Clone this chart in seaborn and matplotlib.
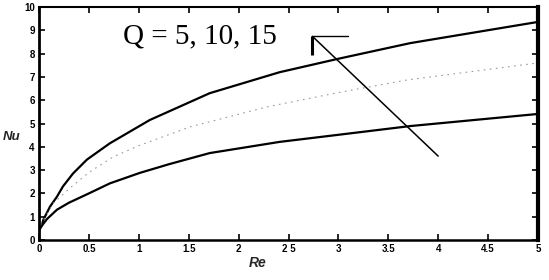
import matplotlib
matplotlib.use("Agg")
import matplotlib.pyplot as plt
import seaborn as sns
import pandas as pd

sns.set_theme(style="white")
plt.rcParams['font.family'] = ['Liberation Sans', 'DejaVu Sans']

# Data (Re vs Nu)
re_q15 = [0.0, 0.027, 0.043, 0.11, 0.18, 0.24, 0.34, 0.48, 0.71, 0.91, 1.11,
          1.71, 2.41, 2.99, 3.72, 5.0]
nu_q15 = [0.40, 0.62, 0.86, 1.43, 1.86, 2.30, 2.85, 3.45, 4.15, 4.65, 5.15,
          6.30, 7.20, 7.77, 8.45, 9.36]

re_q10 = [0.0, 0.05, 0.15, 0.31, 0.50, 0.74, 1.00, 1.51, 2.28, 2.99, 3.69, 5.0]
nu_q10 = [0.40, 0.90, 1.60, 2.23, 2.90, 3.56, 4.05, 4.85, 5.71, 6.32, 6.87, 7.60]

re_q5 = [0.0, 0.03, 0.08, 0.18, 0.30, 0.50, 0.71, 1.01, 1.30, 1.71, 2.41,
         2.99, 3.72, 5.0]
nu_q5 = [0.45, 0.62, 0.90, 1.30, 1.60, 2.00, 2.43, 2.88, 3.25, 3.73, 4.21,
         4.51, 4.89, 5.41]

x_ticks = [0, 0.5, 1, 1.5, 2, 2.5, 3, 3.5, 4, 4.5, 5]
x_ticklabels = ["0", "0.5", "1", "1.5", "2", "2 5", "3", "3.5", "4", "4.5", "5"]
y_ticks = list(range(0, 11))

label_text = "Q = 5, 10, 15"
arrow_re = [4.0, 2.74]
arrow_nu = [3.6, 8.74]

df15 = pd.DataFrame({"Re": re_q15, "Nu": nu_q15})
df10 = pd.DataFrame({"Re": re_q10, "Nu": nu_q10})
df5 = pd.DataFrame({"Re": re_q5, "Nu": nu_q5})

fig = plt.figure(figsize=(5.49, 2.80), dpi=100)
ax = fig.add_axes([39/549, 40/280, 499/549, 233/280])

sns.lineplot(data=df15, x="Re", y="Nu", ax=ax, color="black", linewidth=1.6)
sns.lineplot(data=df10, x="Re", y="Nu", ax=ax, color="#9a9a9a", linewidth=0.8,
             linestyle=(0, (1.5, 4)))
sns.lineplot(data=df5, x="Re", y="Nu", ax=ax, color="black", linewidth=1.6)

# Annotation arrow and bracket
ax.plot(arrow_re, arrow_nu, color="black", linewidth=1.1)
ax.plot([arrow_re[1], arrow_re[1]], [arrow_nu[1], arrow_nu[1] - 0.8],
        color="black", linewidth=2.2, solid_capstyle="butt")
ax.plot([arrow_re[1], arrow_re[1] + 0.36], [arrow_nu[1], arrow_nu[1]],
        color="black", linewidth=1.0)
ax.text(0.84, 8.42, label_text, family=['Liberation Serif', 'DejaVu Serif'],
        fontsize=21, ha="left", va="baseline", color="black")

ax.set_xlim(0, 5)
ax.set_ylim(0, 10)
ax.set_xticks(x_ticks)
ax.set_xticklabels(x_ticklabels)
ax.set_yticks(y_ticks)
ax.tick_params(direction="in", length=4, width=1.2, top=True, right=True,
               bottom=True, left=True, labelsize=7, pad=3, colors="black")
for lbl in ax.get_xticklabels() + ax.get_yticklabels():
    lbl.set_fontweight("bold")
for side, lw in [("left", 2.0), ("bottom", 1.8), ("top", 1.5), ("right", 3.0)]:
    ax.spines[side].set_linewidth(lw)
    ax.spines[side].set_color("black")

ax.set_xlabel("")
ax.set_ylabel("")
fig.text(258/549, 1 - 263/280, "Re", fontsize=10, fontweight="bold",
         fontstyle="italic", ha="center", va="center")
fig.text(21/549, 1 - 137/280, "Nu", fontsize=9.5, fontweight="bold",
         fontstyle="italic", ha="right", va="center")

fig.savefig("out.png", dpi=100, facecolor="white")
